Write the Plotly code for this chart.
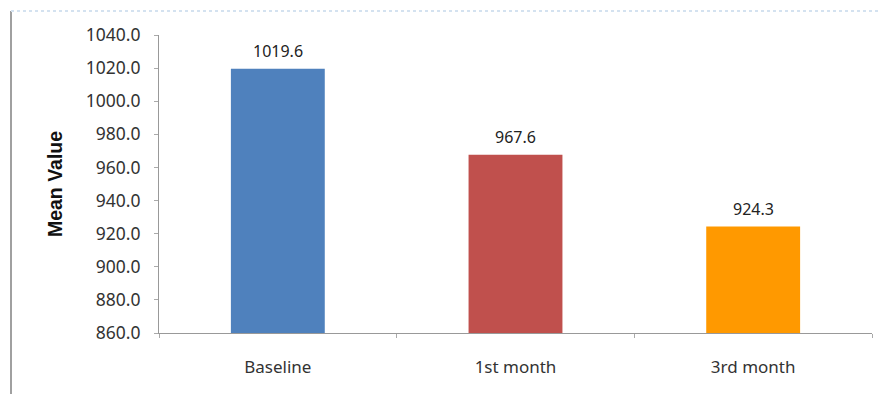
import plotly.graph_objects as go

categories = ["Baseline", "1st month", "3rd month"]
values = [1019.6, 967.6, 924.3]
colors = ["#4F81BD", "#C0504D", "#FF9900"]
y_ticks = [860, 880, 900, 920, 940, 960, 980, 1000, 1020, 1040]

fig = go.Figure()
fig.add_trace(go.Bar(
    x=categories, y=values,
    marker=dict(color=colors, line=dict(width=0)),
    width=0.395,
    hoverinfo="x+y",
))
for c, v in zip(categories, values):
    fig.add_annotation(x=c, y=v, text=f"{v:.1f}", showarrow=False, yshift=18,
                       font=dict(size=16, color="#222222", family="Noto Sans"))

W, H = 881, 394
ml, mr, mt, mb = 159, 9, 35, 61
fig.update_layout(
    width=W, height=H,
    margin=dict(l=ml, r=mr, t=mt, b=mb),
    paper_bgcolor="white", plot_bgcolor="white",
    showlegend=False,
    font=dict(family="Noto Sans", size=15, color="#333333"),
)
fig.update_yaxes(
    range=[860, 1040], tickvals=y_ticks,
    ticktext=[f"{t:.1f}" for t in y_ticks],
    showgrid=False, zeroline=False,
    showline=True, linecolor="#999999", linewidth=1,
    ticks="outside", ticklen=4, tickcolor="#aaaaaa",
    ticklabelstandoff=10,
    tickfont=dict(size=17.5, color="#333333"),
    title=dict(text="<b>Mean Value</b>", font=dict(size=19.5, color="#111111", family="Liberation Sans"), standoff=17),
)
fig.update_xaxes(
    showgrid=False, showline=True, linecolor="#999999", linewidth=1,
    ticks="outside", ticklen=4, tickcolor="#aaaaaa", tickson="boundaries",
    ticklabelstandoff=19,
    tickfont=dict(size=17, color="#333333"),
)

# chart frame: left gray line, top light-blue line
x0 = (11 - ml) / (W - ml - mr)
y_top = 1 + (mt - 11) / (H - mt - mb)
y_bot = -(mb) / (H - mt - mb)
fig.add_shape(type="line", xref="paper", yref="paper", x0=x0, x1=x0, y0=y_bot, y1=y_top,
              line=dict(color="#a0a0a0", width=2))
fig.add_shape(type="line", xref="paper", yref="paper", x0=x0, x1=1 + mr / (W - ml - mr), y0=y_top, y1=y_top,
              line=dict(color="#d4e2f0", width=2, dash="dot"))

fig.write_html("out.html")
